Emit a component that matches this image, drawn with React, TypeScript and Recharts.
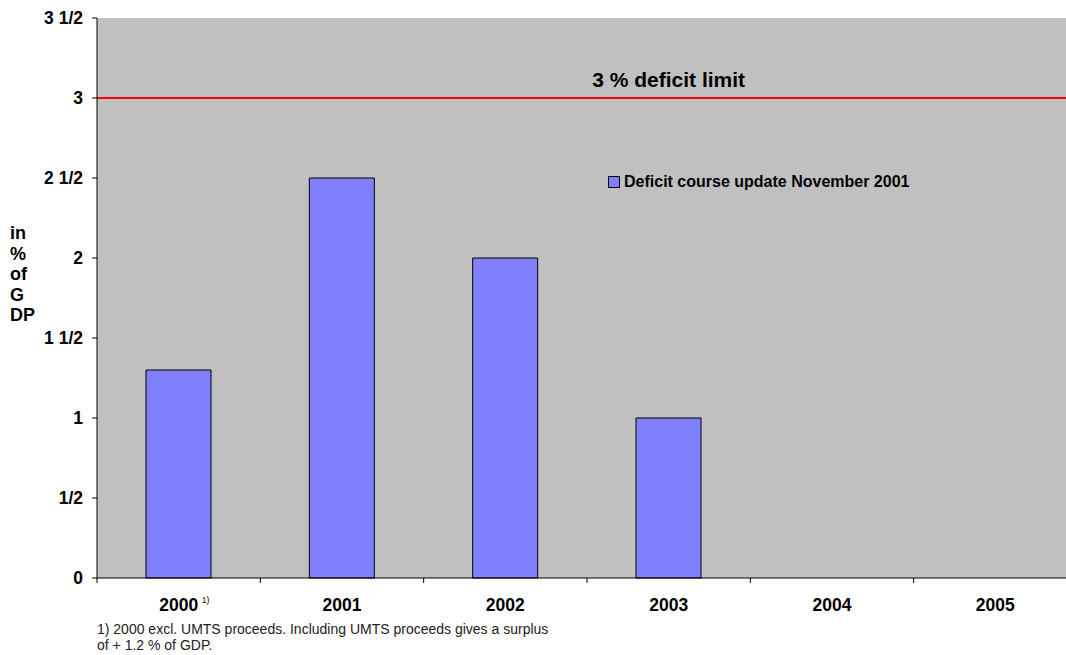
import React from "react";
import { Bar, BarChart, CartesianGrid, Label, Legend, ReferenceDot, ReferenceLine, XAxis, YAxis } from "recharts";

const years = ["2000", "2001", "2002", "2003", "2004", "2005"];
const deficit = [1.3, 2.5, 2.0, 1.0, null, null];
const yTicks = [0, 0.5, 1, 1.5, 2, 2.5, 3, 3.5];
const yTickLabels = ["0", "1/2", "1", "1 1/2", "2", "2 1/2", "3", "3 1/2"];
const deficitLimit = 3;
const limitLabel = "3 % deficit limit";
const seriesName = "Deficit course update November 2001";
const yAxisLabelLines = ["in", "%", "of", "G", "DP"];
const tickNotes: Record<string, string> = { "2000": "1)" };
const footnoteLines = [
  "1) 2000 excl. UMTS proceeds. Including UMTS proceeds gives a surplus",
  "of + 1.2 % of GDP."
];

const data = years.map((year, i) => ({ year, deficit: deficit[i] }));

const FONT = "'Liberation Sans', Arial, Helvetica, sans-serif";

function YearTick(props: any) {
  const { x, y, payload } = props;
  const half = payload?.offset ?? 0;
  const note = tickNotes[payload.value];
  return (
    <g>
      <line x1={x - half} x2={x - half} y1={y} y2={y + 5} stroke="#000" />
      <text x={x} y={y + 33} textAnchor="middle" fontFamily={FONT} fontWeight="bold" fontSize={17.5} fill="#000">
        {payload.value}
      </text>
      {note && (
        <text x={x + 23} y={y + 25} fontFamily={FONT} fontSize={8.5} fill="#000">
          {note}
        </text>
      )}
    </g>
  );
}

function StackedYLabel() {
  return (
    <text fontFamily={FONT} fontWeight="bold" fontSize={18} fill="#000">
      {yAxisLabelLines.map((line, i) => (
        <tspan key={line} x={10} y={239 + i * 20.5}>
          {line}
        </tspan>
      ))}
    </text>
  );
}

function LegendContent(props: any) {
  const item = props.payload?.[0];
  return (
    <div style={{ display: "flex", alignItems: "center", fontFamily: FONT, fontWeight: "bold", fontSize: 16, color: "#000", whiteSpace: "nowrap" }}>
      <span
        style={{
          display: "inline-block",
          width: 10,
          height: 10,
          background: item?.color ?? "#8080FF",
          border: "1px solid #000",
          marginRight: 4
        }}
      />
      {item?.value ?? seriesName}
    </div>
  );
}

export default function App() {
  return (
    <div style={{ position: "absolute", left: 0, top: 0, width: 1066, height: 655, overflow: "hidden", background: "#fff" }}>
      <BarChart
        width={1077}
        height={655}
        data={data}
        margin={{ top: 18, right: 0, left: 0, bottom: 0 }}
        barCategoryGap="30%"
      >
        <CartesianGrid fill="#C0C0C0" horizontal={false} vertical={false} />
        <XAxis
          dataKey="year"
          height={77}
          axisLine={{ stroke: "#000" }}
          tickLine={false}
          tickSize={0}
          tickMargin={0}
          interval={0}
          tick={<YearTick />}
        />
        <YAxis
          width={97}
          domain={[0, 3.5]}
          ticks={yTicks}
          interval={0}
          axisLine={{ stroke: "#000" }}
          tickLine={{ stroke: "#000" }}
          tickSize={5}
          tickMargin={9}
          tickFormatter={(v: number) => yTickLabels[yTicks.indexOf(v)] ?? String(v)}
          tick={{ fontFamily: FONT, fontWeight: "bold", fontSize: 17.5, fill: "#000" }}
        >
          <Label content={<StackedYLabel />} />
        </YAxis>
        <Legend
          layout="horizontal"
          verticalAlign="middle"
          align="center"
          content={<LegendContent />}
          wrapperStyle={{ top: 173, left: 608, width: 420 }}
        />
        <Bar dataKey="deficit" name={seriesName} fill="#8080FF" stroke="#000" strokeWidth={1} isAnimationActive={false} />
        <ReferenceLine y={deficitLimit} stroke="#FF0000" strokeWidth={2} />
        <ReferenceDot
          x="2003"
          y={deficitLimit}
          r={0}
          fill="none"
          stroke="none"
          label={{ value: limitLabel, position: "top", offset: 11, fill: "#000", fontSize: 21, fontWeight: "bold", fontFamily: FONT }}
        />
      </BarChart>
      <div
        style={{
          position: "absolute",
          left: 97,
          top: 621,
          fontFamily: FONT,
          fontSize: 14,
          lineHeight: "16px",
          color: "#222",
          whiteSpace: "nowrap"
        }}
      >
        {footnoteLines.map((line) => (
          <div key={line}>{line}</div>
        ))}
      </div>
    </div>
  );
}
